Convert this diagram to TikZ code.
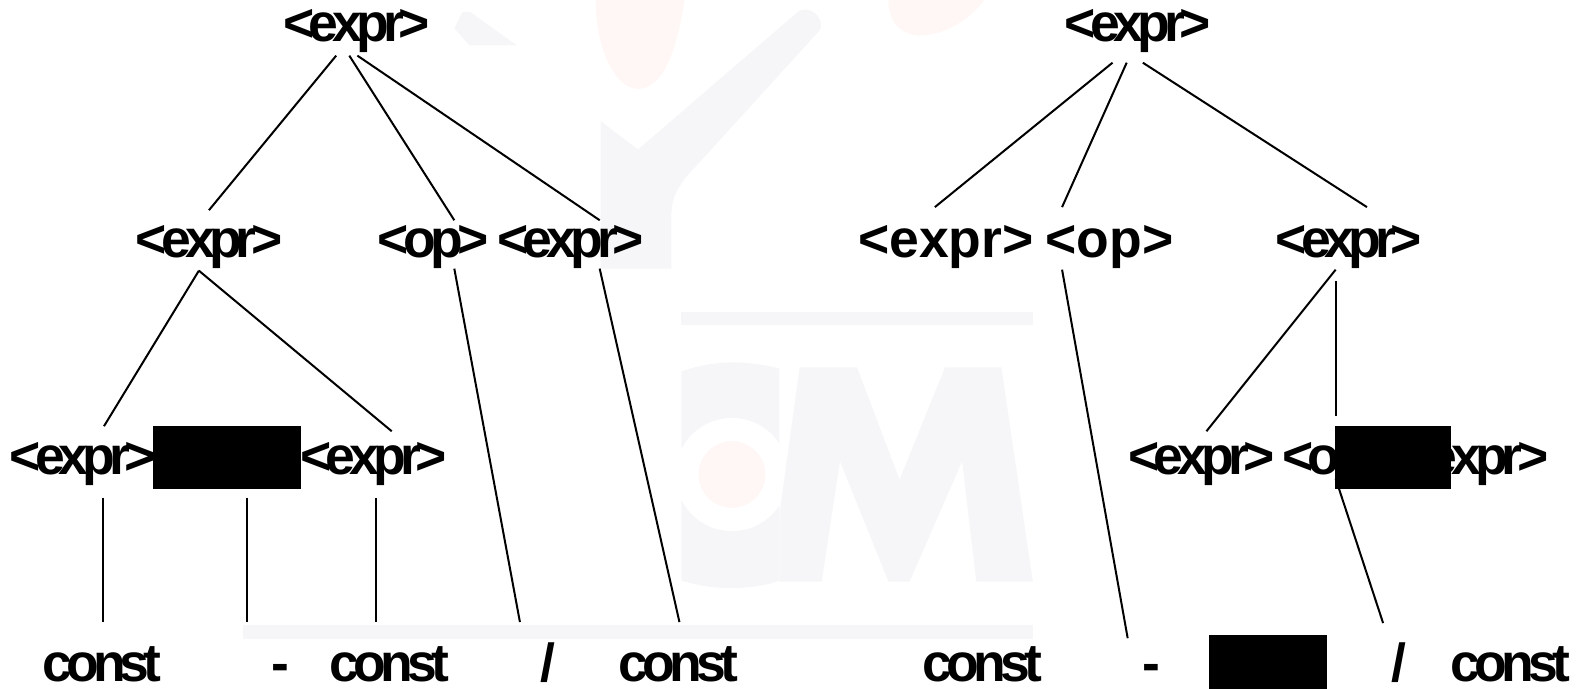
\documentclass[tikz,border=0pt]{standalone}
\usepackage{fontspec}
\newfontfamily\tightfont[LetterSpace=-10.8]{Liberation Sans}
\newfontfamily\wideopen{Liberation Sans}
\definecolor{markgrey}{HTML}{F6F6F9}
\definecolor{markred}{HTML}{FFF7F5}
\begin{document}
\begin{tikzpicture}[
	x=1.0096pt, y=-1.0096pt,
	sym/.style={font=\tightfont\fontsize{53.5}{60}\bfseries\selectfont, inner sep=0pt, anchor=base, text height=37pt, text depth=11pt},
	widesym/.style={sym, font=\wideopen\fontsize{53.5}{60}\bfseries\selectfont},
	leaf/.style={sym, text depth=0pt},
	blackbox/.style={fill=black, inner sep=0pt},
	branch/.style={line width=2pt, black}
	]
	\useasboundingbox (0,0) rectangle (1568,682.4);
	
	% Faint mark behind the trees
	\fill[markgrey] (450,28) -- (458,12) -- (466,12) -- (512,45) -- (465,45) -- cycle;
	\fill[markgrey] (595,120) -- (632,148) -- (790,12) .. controls (800,4) and (818,16) .. (812,30) -- (680,175) .. controls (668,190) and (665,200) .. (665,215) -- (665,266) -- (595,266) -- cycle;
	\fill[markred] (590,0) .. controls (590,50) and (610,88) .. (632,88) .. controls (660,88) and (672,40) .. (678,0) -- cycle;
	\fill[markred] (880,0) .. controls (880,25) and (895,35) .. (912,35) .. controls (935,35) and (960,20) .. (975,0) -- cycle;
	\fill[markgrey] (675,309) rectangle (1023,322);
	\fill[markgrey] (241,619) rectangle (1023,633);
	\fill[markgrey] (675,368) .. controls (710,355) and (745,358) .. (772,365) -- (772,575) .. controls (745,585) and (705,585) .. (675,575) -- cycle;
	\fill[white] (725,470) circle[radius=56];
	\fill[markred] (725,470) circle[radius=33];
	\fill[markgrey] (792,364) -- (849,364) -- (891,475) -- (936,364) -- (992,364) -- (1023,576) -- (967,576) -- (953,457) -- (901,576) -- (880,576) -- (832,457) -- (814,576) -- (772,576) -- (772,510) -- cycle;
	
	% Left tree
	\node[sym] (lroot) at (353,41) {<expr>};
	\node[sym] (lexpra) at (207,255) {<expr>};
	\node[sym] (lop) at (429,255) {<op>};
	\node[sym] (lexprb) at (565,255) {<expr>};
	\node[sym] (lexprc) at (82,470) {<expr>};
	\node[blackbox, minimum width=147.4pt, minimum height=62.6pt] (lbox) at (225,453) {};
	\node[sym] (lexprd) at (370,470) {<expr>};
	\node[leaf] (lconsta) at (101,675) {const};
	\node[leaf] (lminus) at (278,675) {-};
	\node[leaf] (lconstb) at (386,675) {const};
	\node[leaf] (lslash) at (543,675) {/};
	\node[leaf] (lconstc) at (672,675) {const};
	
	\draw[branch] ([shift={(-20,3)}]lroot.south) -- ([shift={(0,-10)}]lexpra.north);
	\draw[branch] ([shift={(-7,3)}]lroot.south) -- ([shift={(21,0)}]lop.north);
	\draw[branch] ([shift={(1,3)}]lroot.south) -- ([shift={(29,0)}]lexprb.north);
	\draw[branch] ([shift={(-10,2)}]lexpra.south) -- ([shift={(21,-11)}]lexprc.north);
	\draw[branch] ([shift={(-10,2)}]lexpra.south) -- ([shift={(18,-6)}]lexprd.north);
	\draw[branch] ([shift={(21,0)}]lop.south) -- ([shift={(-28,-22)}]lslash.north);
	\draw[branch] ([shift={(29,0)}]lexprb.south) -- ([shift={(1,-22)}]lconstc.north);
	\draw[branch] ([shift={(20,12)}]lexprc.south) -- ([shift={(1,-22)}]lconsta.north);
	\draw[branch] ([shift={(20,9)}]lbox.south) -- ([shift={(-33,-22)}]lminus.north);
	\draw[branch] ([shift={(2,12)}]lexprd.south) -- ([shift={(-14,-22)}]lconstb.north);
	
	% Right tree
	\node[sym] (rroot) at (1127,41) {<expr>};
	\node[widesym] (rexpra) at (937,255) {<expr>};
	\node[widesym] (rop) at (1099,255) {<op>};
	\node[sym] (rexprb) at (1336,255) {<expr>};
	\node[sym] (rexprc) at (1190,470) {<expr>};
	\node[sym] (ropb) at (1325,470) {<op>};
	\node[sym] (rexprd) at (1461,470) {<expr>};
	\node[blackbox, minimum width=116.1pt, minimum height=62.6pt] (rboxa) at (1379.5,453) {};
	\node[leaf] (rconsta) at (973,675) {const};
	\node[leaf] (rminus) at (1140,675) {-};
	\node[blackbox, minimum width=117.1pt, minimum height=54pt] (rboxb) at (1256,655.5) {};
	\node[leaf] (rslash) at (1386,675) {/};
	\node[leaf] (rconstb) at (1496,675) {const};
	
	\draw[branch] ([shift={(-25,10)}]rroot.south) -- ([shift={(-11,-13)}]rexpra.north);
	\draw[branch] ([shift={(-11,10)}]rroot.south) -- ([shift={(-47,-13)}]rop.north);
	\draw[branch] ([shift={(5,10)}]rroot.south) -- ([shift={(18,-13)}]rexprb.north);
	\draw[branch] ([shift={(-47,1)}]rop.south) -- ([shift={(-23,-6)}]rminus.north);
	\draw[branch] ([shift={(-13,1)}]rexprb.south) -- ([shift={(5,-6)}]rexprc.north);
	\draw[branch] ([shift={(-13,12)}]rexprb.south) -- ([shift={(-2,-21)}]ropb.north);
	\draw[branch] ([shift={(-2,-7)}]ropb.south) -- ([shift={(-16,-21)}]rslash.north);
	
\end{tikzpicture}
\end{document}
